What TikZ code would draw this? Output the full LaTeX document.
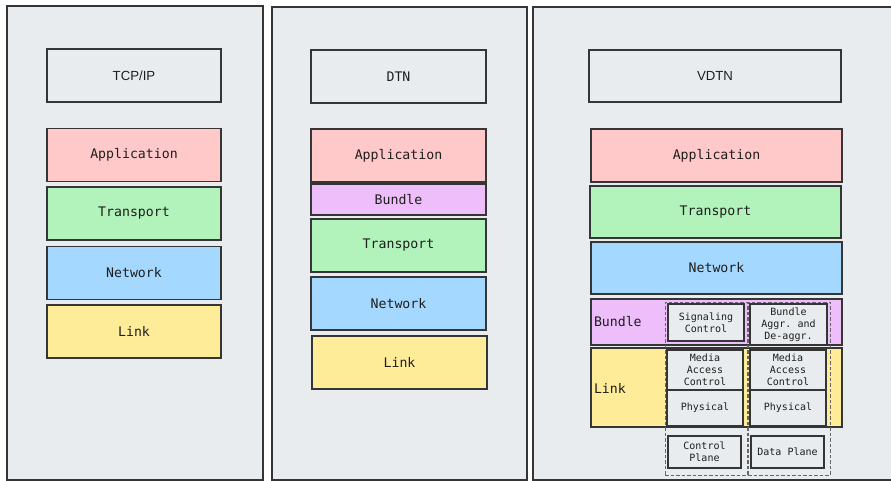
\documentclass[tikz,border=0pt]{standalone}
\usepackage{fontspec}
\setmainfont{Liberation Sans}
\setmonofont{DejaVu Sans Mono}
\definecolor{panelbg}{HTML}{E9ECEF}
\definecolor{ink}{HTML}{1E1E1E}
\definecolor{appcol}{HTML}{FFC9C9}
\definecolor{transcol}{HTML}{B2F2BB}
\definecolor{netcol}{HTML}{A5D8FF}
\definecolor{linkcol}{HTML}{FFEC99}
\definecolor{bundlecol}{HTML}{EEBEFA}
\tikzset{
  panel/.style={draw=ink!90, line width=1.3pt, fill=panelbg},
  layer/.style={draw=ink!90, line width=1.4pt, inner sep=0pt, outer sep=0pt,
    font=\ttfamily\fontsize{13.2}{15}\selectfont, text=ink},
  title/.style={layer, font=\fontsize{13.2}{15}\selectfont},
  sub/.style={draw=ink!90, line width=1.3pt, fill=panelbg, inner sep=0pt, outer sep=0pt,
    align=center, font=\ttfamily\fontsize{10}{12}\selectfont, text=ink},
  plane/.style={draw=black!60, dash pattern=on 3.5pt off 2pt, line width=0.9pt,
    inner sep=0pt, outer sep=0pt}
}
\begin{document}
\begin{tikzpicture}[x=1pt, y=-1pt]
  \useasboundingbox (0,0) rectangle (891,481);
  \clip (0,0) rectangle (891,481);

  % Hintergrundfelder
  \filldraw[panel] (7,6) rectangle (263,480);
  \filldraw[panel] (272,7) rectangle (527,480);
  \filldraw[panel] (533,7) rectangle (905,480);

  % TCP/IP
  \node[title, minimum width=174pt, minimum height=53pt] (tcp) at (134,75.5) {TCP/IP};
  \node[layer, fill=appcol, minimum width=174pt, minimum height=53pt] (tcpApp) at (134,155) {Application};
  \node[layer, fill=transcol, minimum width=174pt, minimum height=53pt] (tcpTrans) at (134,213.5) {Transport};
  \node[layer, fill=netcol, minimum width=174pt, minimum height=53pt] (tcpNet) at (134,273) {Network};
  \node[layer, fill=linkcol, minimum width=174pt, minimum height=53pt] (tcpLink) at (134,331.5) {Link};

  % DTN
  \node[layer, minimum width=175pt, minimum height=53pt] (dtn) at (398.5,76.5) {DTN};
  \node[layer, fill=appcol, minimum width=175pt, minimum height=53pt] (dtnApp) at (398.5,155.5) {Application};
  \node[layer, fill=bundlecol, minimum width=175pt, minimum height=31pt] (dtnBundle) at (398.5,199.5) {Bundle};
  \node[layer, fill=transcol, minimum width=175pt, minimum height=53pt] (dtnTrans) at (398.5,245.5) {Transport};
  \node[layer, fill=netcol, minimum width=175pt, minimum height=53pt] (dtnNet) at (398.5,303.5) {Network};
  \node[layer, fill=linkcol, minimum width=175pt, minimum height=53pt] (dtnLink) at (399.5,362.5) {Link};

  % VDTN
  \node[title, minimum width=252pt, minimum height=52pt] (vdtn) at (715,76) {VDTN};
  \node[layer, fill=appcol, minimum width=251pt, minimum height=53pt] (vApp) at (716.5,155.5) {Application};
  \node[layer, fill=transcol, minimum width=251pt, minimum height=52pt] (vTrans) at (715.5,212) {Transport};
  \node[layer, fill=netcol, minimum width=251pt, minimum height=52pt] (vNet) at (716.5,268) {Network};
  \node[layer, fill=bundlecol, minimum width=251pt, minimum height=46pt] (vBundle) at (716.5,322) {};
  \node[layer, fill=linkcol, minimum width=251pt, minimum height=79pt] (vLink) at (716.5,387.5) {};
  \node[layer, anchor=west, draw=none] (vBundleTxt) at (594,322) {Bundle};
  \node[layer, anchor=west, draw=none] (vLinkTxt) at (594,388) {Link};

  % Kontroll- und Datenebene
  \node[sub, minimum width=76pt, minimum height=37pt] (sig) at (706,322.5) {Signaling\\Control};
  \node[sub, minimum width=77pt, minimum height=41pt] (aggr) at (788.5,324.5) {Bundle\\Aggr. and\\De-aggr.};
  \node[sub, minimum width=76pt, minimum height=40pt] (macC) at (705,370) {Media\\Access\\Control};
  \node[sub, minimum width=76pt, minimum height=36pt] (phyC) at (705,408) {Physical};
  \node[sub, minimum width=76pt, minimum height=40pt] (macD) at (788,370) {Media\\Access\\Control};
  \node[sub, minimum width=76pt, minimum height=36pt] (phyD) at (788,408) {Physical};
  \node[sub, minimum width=73pt, minimum height=32pt] (cplane) at (704.5,452) {Control\\Plane};
  \node[sub, minimum width=73pt, minimum height=32pt] (dplane) at (787.5,452) {Data Plane};
  \node[plane, minimum width=82pt, minimum height=173pt] (ctrlCol) at (706,388.5) {};
  \node[plane, minimum width=82pt, minimum height=173pt] (dataCol) at (789,388.5) {};

\end{tikzpicture}
\end{document}
